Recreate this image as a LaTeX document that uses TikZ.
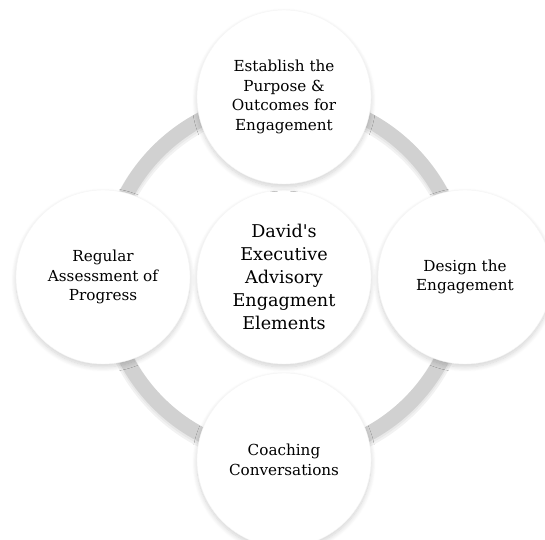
\documentclass[tikz,border=0pt]{standalone}
\usepackage{fontspec}
\setmainfont{DejaVu Serif}
\usetikzlibrary{shadows.blur}

\begin{document}
\begin{tikzpicture}[x=1pt,y=1pt]
	\tikzstyle{elem}=[circle,fill=white,draw=black!4,
	minimum size=174pt,
	inner sep=0pt,align=center,
	blur shadow={shadow xshift=0pt,shadow yshift=-3pt,shadow blur steps=10,shadow blur radius=5pt,shadow opacity=18}
	]
	\tikzstyle{hub}=[elem,font=\fontsize{17.6}{23}\selectfont];
	\tikzstyle{phase}=[elem,font=\fontsize{15.2}{19.8}\selectfont];
	\tikzstyle{ring}=[draw=black!18,line width=15pt];
\useasboundingbox (0,0) rectangle (545,539);
\clip (0,0) rectangle (545,539);

\coordinate (o) at (284,262);
% the grey band behind the elements, with a soft shadow under it
\draw[black!5,line width=19pt] (o) ++(0,-3) circle (178);
\draw[black!9,line width=16pt] (o) ++(0,-2) circle (178);
\draw[ring] (o) circle (178);

\node[hub](c) at (o){David\textquotesingle s\\Executive\\Advisory\\Engagment\\Elements};
\node[phase](t) at (284,442){Establish the\\Purpose \&\\Outcomes for\\Engagement};
\node[phase](r) at (465,262){Design the\\Engagement};
\node[phase](b) at (284,79){Coaching\\Conversations};
\node[phase](l) at (103,262){Regular\\Assessment of\\Progress};

\end{tikzpicture}
\end{document}
